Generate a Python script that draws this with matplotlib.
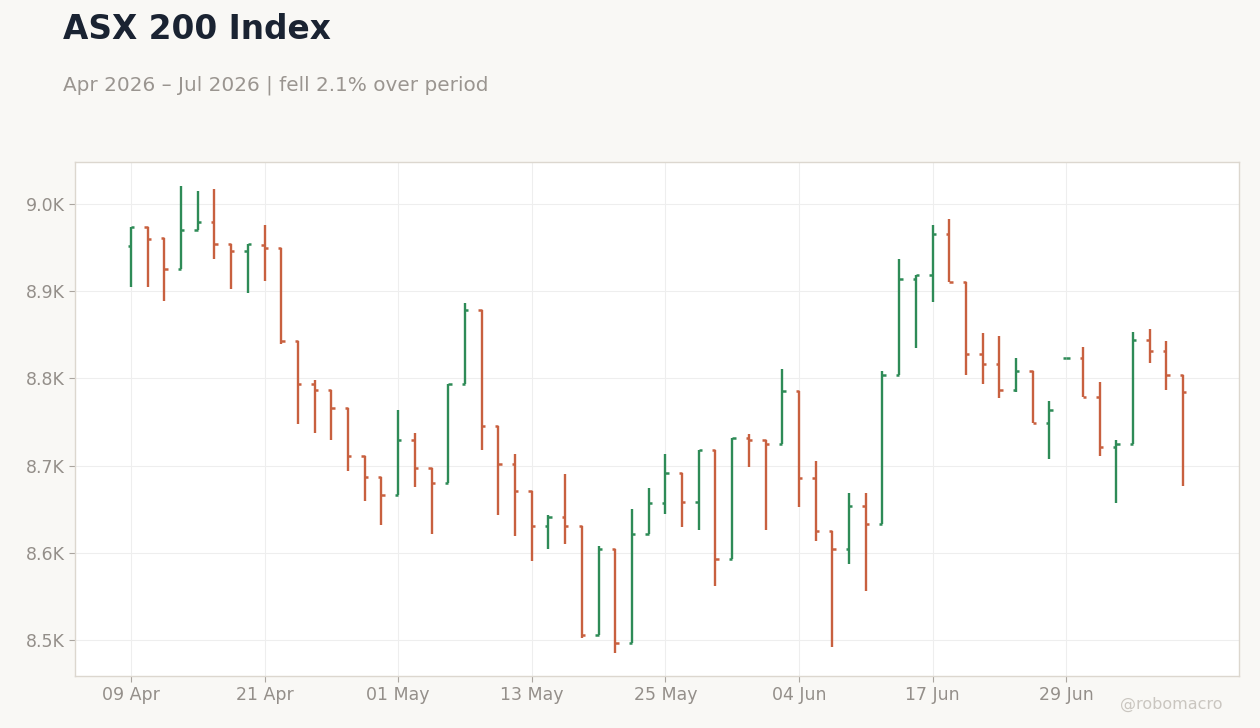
import matplotlib
matplotlib.use("Agg")
import matplotlib.pyplot as plt
import pandas as pd

# trading days (ASX, King's Birthday 8 Jun closed)
dates = [d for d in pd.bdate_range("2026-04-09", "2026-07-08") if d != pd.Timestamp("2026-06-08")]

opens = [8952, 8973, 8961, 8926, 8970, 8979, 8954, 8946, 8953, 8949,
         8843, 8794, 8787, 8766, 8711, 8687, 8666, 8729, 8697, 8680,
         8794, 8878, 8745, 8702, 8671, 8631, 8641, 8631, 8506, 8605,
         8497, 8622, 8657, 8692, 8658, 8718, 8593, 8732, 8730, 8725,
         8786, 8686, 8625, 8604, 8654, 8633, 8804, 8914, 8918, 8966,
         8911, 8828, 8816, 8787, 8809, 8749, 8823, 8824, 8779, 8722,
         8725, 8844, 8831, 8804]
highs = [8973, 8973, 8961, 9021, 9015, 9017, 8954, 8954, 8976, 8949,
         8843, 8798, 8787, 8766, 8711, 8687, 8764, 8738, 8697, 8794,
         8887, 8878, 8745, 8713, 8671, 8644, 8691, 8631, 8608, 8605,
         8650, 8674, 8713, 8692, 8718, 8718, 8732, 8736, 8730, 8811,
         8786, 8705, 8625, 8669, 8669, 8809, 8937, 8918, 8976, 8983,
         8911, 8852, 8849, 8823, 8809, 8774, 8823, 8836, 8796, 8729,
         8853, 8857, 8843, 8804]
lows = [8905, 8905, 8889, 8926, 8970, 8937, 8903, 8898, 8912, 8839,
        8748, 8738, 8730, 8694, 8660, 8632, 8666, 8676, 8622, 8680,
        8794, 8718, 8644, 8620, 8591, 8604, 8610, 8502, 8506, 8485,
        8497, 8622, 8645, 8630, 8626, 8562, 8593, 8698, 8626, 8725,
        8653, 8614, 8492, 8587, 8556, 8633, 8804, 8835, 8888, 8911,
        8804, 8794, 8778, 8785, 8749, 8708, 8823, 8779, 8711, 8657,
        8725, 8818, 8787, 8677]
closes = [8973, 8960, 8926, 8970, 8979, 8954, 8946, 8954, 8949, 8843,
          8794, 8787, 8766, 8711, 8687, 8666, 8729, 8697, 8680, 8794,
          8878, 8745, 8702, 8671, 8631, 8641, 8631, 8506, 8605, 8497,
          8622, 8657, 8692, 8658, 8718, 8593, 8732, 8729, 8725, 8786,
          8686, 8625, 8605, 8654, 8633, 8804, 8914, 8918, 8966, 8911,
          8828, 8816, 8787, 8808, 8749, 8764, 8823, 8779, 8722, 8725,
          8844, 8831, 8804, 8785]

UP = "#2e8b57"
DOWN = "#c8603f"
TXT = "#948f8a"

fig = plt.figure(figsize=(12.6, 7.28), dpi=100, facecolor="#f9f8f5")
ax = fig.add_axes([0.0595, 0.0714, 0.924, 0.706])
ax.set_facecolor("white")

x = list(range(len(dates)))
cols = [UP if c >= o else DOWN for o, c in zip(opens, closes)]
tw = 0.2
ax.vlines(x, lows, highs, colors=cols, lw=1.7, zorder=3)
ax.hlines(opens, [i - tw for i in x], x, colors=cols, lw=1.8, zorder=3)
ax.hlines(closes, x, [i + tw for i in x], colors=cols, lw=1.8, zorder=3)

ax.set_xlim(-3.35, len(dates) - 1 + 3.36)
ax.set_ylim(8459, 9048)

tick_idx = x[::8]
ax.set_xticks(tick_idx)
ax.set_xticklabels([dates[i].strftime("%d %b") for i in tick_idx])
ax.set_yticks([8500, 8600, 8700, 8800, 8900, 9000])
ax.set_yticklabels([f"{v/1000:.1f}K" for v in [8500, 8600, 8700, 8800, 8900, 9000]])

ax.grid(True, color="#eeeeee", lw=0.8, zorder=0)
ax.tick_params(colors="#aaa59f", labelcolor=TXT, labelsize=12.5, length=4, width=0.8)
for s in ax.spines.values():
    s.set_color("#dcd7cf")
    s.set_linewidth(1)

fig.text(0.05, 0.96, "ASX 200 Index", fontsize=23.6, fontweight="bold",
         color="#1a2332", va="center", ha="left")
fig.text(0.05, 0.883, "Apr 2026 \u2013 Jul 2026 | fell 2.1% over period",
         fontsize=14.4, color="#9a9590", va="center", ha="left")
fig.text(0.97, 0.032, "@robomacro", fontsize=11.5, color="#cac6c0",
         va="center", ha="right")

fig.savefig("out.png", dpi=100, facecolor=fig.get_facecolor())
